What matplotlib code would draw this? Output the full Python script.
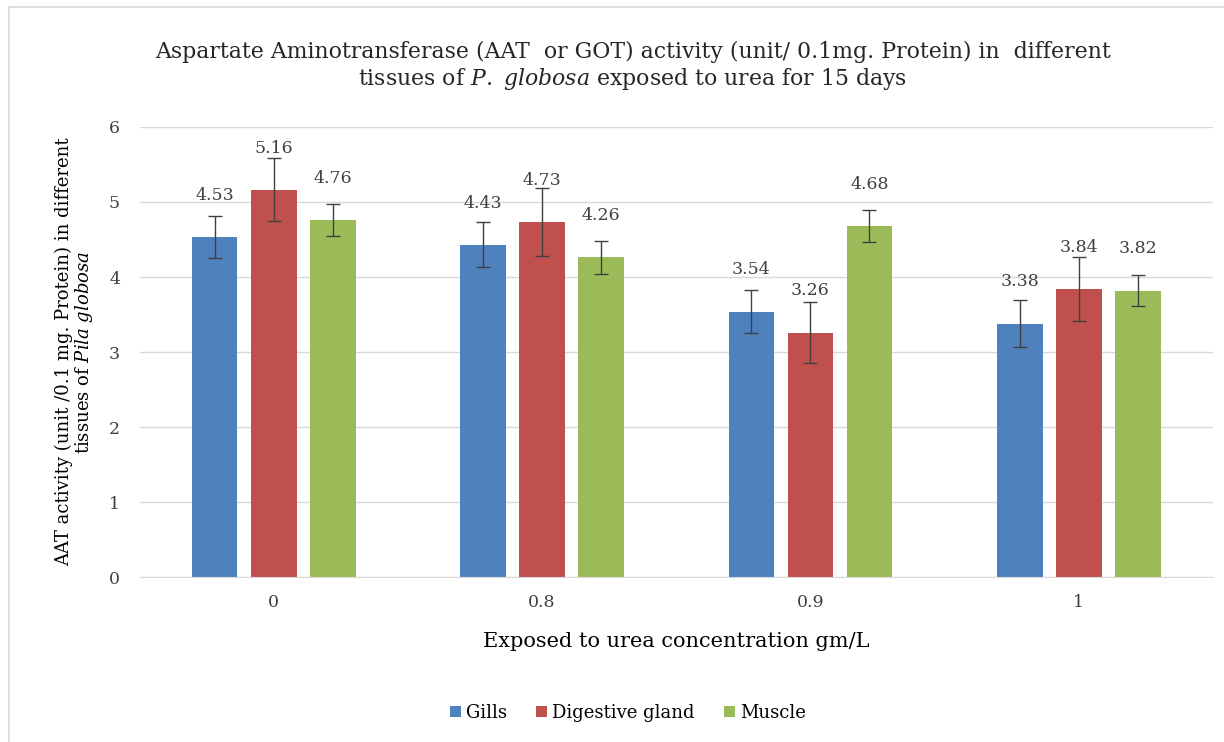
import numpy as np
import matplotlib
matplotlib.use('Agg')
import matplotlib.pyplot as plt
from matplotlib.patches import Rectangle

# Data
concentrations = ['0', '0.8', '0.9', '1']
tissues = ['Gills', 'Digestive gland', 'Muscle']
gills = [4.53, 4.43, 3.54, 3.38]
digestive = [5.16, 4.73, 3.26, 3.84]
muscle = [4.76, 4.26, 4.68, 3.82]
gills_err = [0.28, 0.30, 0.29, 0.31]
digestive_err = [0.42, 0.45, 0.41, 0.42]
muscle_err = [0.21, 0.22, 0.21, 0.21]

colors = ['#4F81BD', '#C0504D', '#9BBB59']

plt.rcParams['font.family'] = ['DejaVu Serif']
plt.rcParams['mathtext.fontset'] = 'custom'
plt.rcParams['mathtext.rm'] = 'DejaVu Serif'
plt.rcParams['mathtext.it'] = 'DejaVu Serif:italic'

fig = plt.figure(figsize=(12.24, 7.42), dpi=100)
ax = fig.add_axes([0.114, 0.222, 0.877, 0.607])

# light chart border
fig.patches.append(Rectangle((0.007, -0.01), 1.0, 1.0, transform=fig.transFigure,
                             fill=False, edgecolor='#D9D9D9', lw=1.2))

x = np.arange(len(concentrations))
width = 0.17
step = 0.22
series = [gills, digestive, muscle]
errors = [gills_err, digestive_err, muscle_err]

for i, (vals, errs) in enumerate(zip(series, errors)):
    pos = x + (i - 1) * step
    ax.bar(pos, vals, width, color=colors[i], label=tissues[i], zorder=2)
    ax.errorbar(pos, vals, yerr=errs, fmt='none', ecolor='#404040',
                elinewidth=1, capsize=5, capthick=1, zorder=3)
    for px, v in zip(pos, vals):
        ax.annotate(f'{v:.2f}', (px, v), xytext=(0, 30), textcoords='offset points',
                    ha='center', va='center', fontsize=12.5, color='#404040', zorder=4)

ax.set_xlim(-0.5, 3.5)
ax.set_ylim(0, 6)
ax.set_yticks(range(0, 7))
ax.set_xticks(x)
ax.set_xticklabels(concentrations)
ax.yaxis.grid(True, color='#D9D9D9', lw=1)
ax.set_axisbelow(True)
for s in ['top', 'right', 'left']:
    ax.spines[s].set_visible(False)
ax.spines['bottom'].set_color('#D9D9D9')
ax.tick_params(axis='both', length=0, labelsize=12.5, colors='#404040', pad=12)
ax.tick_params(axis='y', pad=14)

ax.set_xlabel('Exposed to urea concentration gm/L', fontsize=15, labelpad=15)
ax.set_ylabel('AAT activity (unit /0.1 mg. Protein) in different\n'
              r'tissues of $\mathit{Pila\ globosa}$', fontsize=13, labelpad=10,
              linespacing=1.0)

fig.text(0.517, 0.911,
         'Aspartate Aminotransferase (AAT  or GOT) activity (unit/ 0.1mg. Protein) in  different\n'
         r'tissues of $\mathit{P.}$ $\mathit{globosa}$ exposed to urea for 15 days',
         ha='center', va='center', fontsize=15.8, color='#262626', linespacing=1.15)

ax.legend(loc='upper center', bbox_to_anchor=(0.455, -0.245), ncol=3, frameon=False,
          fontsize=13, handlelength=0.6, handleheight=0.6, handletextpad=0.3,
          columnspacing=1.6)

fig.savefig('out.png', dpi=100)
